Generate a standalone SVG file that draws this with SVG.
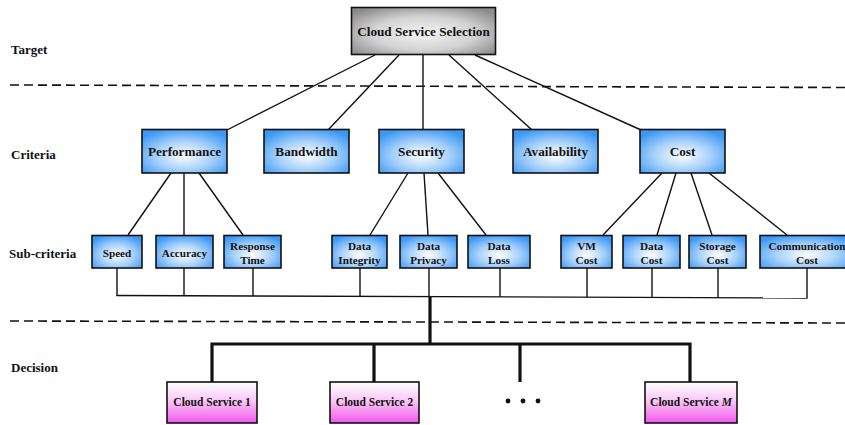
<svg xmlns="http://www.w3.org/2000/svg" width="845" height="425" viewBox="0 0 845 425">
  <defs>
    <radialGradient id="gGray" cx="50%" cy="55%" r="65%">
      <stop offset="0" stop-color="#f4f4f4"/>
      <stop offset="0.55" stop-color="#d2d2d2"/>
      <stop offset="1" stop-color="#8a8a8a"/>
    </radialGradient>
    <radialGradient id="gBlue" cx="50%" cy="60%" r="65%">
      <stop offset="0" stop-color="#ffffff"/>
      <stop offset="0.5" stop-color="#a9d2fb"/>
      <stop offset="1" stop-color="#3c98f5"/>
    </radialGradient>
    <linearGradient id="gPink" x1="0" y1="0" x2="0" y2="1">
      <stop offset="0" stop-color="#ffffff"/>
      <stop offset="0.45" stop-color="#fbc8f6"/>
      <stop offset="1" stop-color="#f058ec"/>
    </linearGradient>
  </defs>
  <style>
    .box { stroke: #111; stroke-width: 1.6; }
    .top { fill: url(#gGray); }
    .crit { fill: url(#gBlue); }
    .dec { fill: url(#gPink); }
    text { font-family: "Liberation Serif", "Times New Roman", serif; font-weight: bold; fill: #111; }
    .t13 { font-size: 13.2px; text-anchor: middle; }
    .t11 { font-size: 11.2px; text-anchor: middle; }
    .t12 { font-size: 11.5px; text-anchor: middle; }
    .lab { font-size: 13px; }
    .thin { stroke: #111; stroke-width: 1.4; fill: none; }
    .thick { stroke: #111; stroke-width: 3.2; fill: none; }
    .dash { stroke: #111; stroke-width: 1.6; stroke-dasharray: 9 5; fill: none; }
  </style>

  <rect width="845" height="425" fill="#ffffff"/>

  <!-- level labels and separators -->
  <g id="levels">
    <text class="lab" x="11" y="54">Target</text>
    <text class="lab" x="11" y="159">Criteria</text>
    <text class="lab" x="9" y="258">Sub-criteria</text>
    <text class="lab" x="11" y="372">Decision</text>
    <line class="dash" x1="10" y1="85" x2="845" y2="87.5"/>
    <line class="dash" x1="10" y1="321" x2="845" y2="323"/>
  </g>

  <!-- connectors -->
  <g id="connectors">
    <line class="thin" x1="375" y1="55" x2="227" y2="130"/>
    <line class="thin" x1="399" y1="55" x2="328" y2="130"/>
    <line class="thin" x1="423" y1="55" x2="423" y2="130"/>
    <line class="thin" x1="449" y1="55" x2="532" y2="130"/>
    <line class="thin" x1="475" y1="55" x2="641" y2="130"/>

    <line class="thin" x1="171" y1="173" x2="128" y2="235"/>
    <line class="thin" x1="184" y1="173" x2="184" y2="235"/>
    <line class="thin" x1="199" y1="173" x2="243" y2="235"/>

    <line class="thin" x1="408" y1="173" x2="370" y2="235"/>
    <line class="thin" x1="424" y1="173" x2="428" y2="235"/>
    <line class="thin" x1="438" y1="173" x2="486" y2="235"/>

    <line class="thin" x1="662" y1="173" x2="603" y2="235"/>
    <line class="thin" x1="676" y1="173" x2="657" y2="235"/>
    <line class="thin" x1="691" y1="173" x2="712" y2="235"/>
    <line class="thin" x1="709" y1="173" x2="787" y2="235"/>

    <!-- sub-criteria collector -->
    <line class="thin" x1="117" y1="268" x2="117" y2="295.5"/>
    <line class="thin" x1="184" y1="268" x2="184" y2="295.7"/>
    <line class="thin" x1="253" y1="268" x2="253" y2="296"/>
    <line class="thin" x1="360" y1="268" x2="360" y2="296.3"/>
    <line class="thin" x1="429" y1="268" x2="429" y2="296.5"/>
    <line class="thin" x1="500" y1="268" x2="500" y2="296.8"/>
    <line class="thin" x1="587" y1="268" x2="587" y2="297.2"/>
    <line class="thin" x1="652" y1="268" x2="652" y2="297.5"/>
    <line class="thin" x1="718" y1="268" x2="718" y2="297.8"/>
    <line class="thin" x1="807" y1="268" x2="807" y2="298"/>
    <line class="thin" x1="116.3" y1="295.5" x2="807.7" y2="298"/>

    <!-- decision bus -->
    <line class="thick" x1="430" y1="296" x2="430" y2="344"/>
    <polyline class="thick" points="212,382 212,344 690,344 690,382"/>
    <line class="thick" x1="374" y1="344" x2="374" y2="382"/>
    <line class="thick" x1="520" y1="344" x2="520" y2="382"/>
  </g>

  <!-- target -->
  <g id="target">
    <rect class="box top" x="351.5" y="7.5" width="144" height="47"/>
    <text class="t13" x="423.5" y="35.5">Cloud Service Selection</text>
  </g>

  <!-- criteria -->
  <g id="performance">
    <rect class="box crit" x="142" y="129.5" width="85" height="43.5"/>
    <text class="t13" x="184.5" y="156">Performance</text>
  </g>
  <g id="bandwidth">
    <rect class="box crit" x="264" y="129.5" width="85" height="43.5"/>
    <text class="t13" x="306.5" y="156">Bandwidth</text>
  </g>
  <g id="security">
    <rect class="box crit" x="379" y="129.5" width="85" height="43.5"/>
    <text class="t13" x="421.5" y="156">Security</text>
  </g>
  <g id="availability">
    <rect class="box crit" x="513" y="129.5" width="85" height="43.5"/>
    <text class="t13" x="555.5" y="156">Availability</text>
  </g>
  <g id="cost">
    <rect class="box crit" x="640" y="129.5" width="85" height="43.5"/>
    <text class="t13" x="682.5" y="156">Cost</text>
  </g>

  <!-- sub-criteria -->
  <g id="speed">
    <rect class="box crit" x="92" y="235.5" width="50" height="32.5"/>
    <text class="t11" x="117" y="256.5">Speed</text>
  </g>
  <g id="accuracy">
    <rect class="box crit" x="156" y="235.5" width="57" height="32.5"/>
    <text class="t11" x="184.5" y="256.5">Accuracy</text>
  </g>
  <g id="response-time">
    <rect class="box crit" x="224" y="235.5" width="57" height="32.5"/>
    <text class="t11" x="252.5" y="249.5">Response</text>
    <text class="t11" x="252.5" y="263.5">Time</text>
  </g>
  <g id="data-integrity">
    <rect class="box crit" x="332" y="235.5" width="55" height="32.5"/>
    <text class="t11" x="359.5" y="249.5">Data</text>
    <text class="t11" x="359.5" y="263.5">Integrity</text>
  </g>
  <g id="data-privacy">
    <rect class="box crit" x="400" y="235.5" width="57" height="32.5"/>
    <text class="t11" x="428.5" y="249.5">Data</text>
    <text class="t11" x="428.5" y="263.5">Privacy</text>
  </g>
  <g id="data-loss">
    <rect class="box crit" x="468" y="235.5" width="62" height="32.5"/>
    <text class="t11" x="499" y="249.5">Data</text>
    <text class="t11" x="499" y="263.5">Loss</text>
  </g>
  <g id="vm-cost">
    <rect class="box crit" x="561" y="235.5" width="51" height="32.5"/>
    <text class="t11" x="586.5" y="249.5">VM</text>
    <text class="t11" x="586.5" y="263.5">Cost</text>
  </g>
  <g id="data-cost">
    <rect class="box crit" x="623" y="235.5" width="57" height="32.5"/>
    <text class="t11" x="651.5" y="249.5">Data</text>
    <text class="t11" x="651.5" y="263.5">Cost</text>
  </g>
  <g id="storage-cost">
    <rect class="box crit" x="689" y="235.5" width="57" height="32.5"/>
    <text class="t11" x="717.5" y="249.5">Storage</text>
    <text class="t11" x="717.5" y="263.5">Cost</text>
  </g>
  <g id="communication-cost">
    <rect class="box crit" x="760" y="235.5" width="94" height="32.5"/>
    <text class="t11" x="807" y="249.5">Communication</text>
    <text class="t11" x="807" y="263.5">Cost</text>
  </g>

  <!-- decision alternatives -->
  <g id="cloud-service-1">
    <rect class="box dec" x="167" y="382" width="90" height="41"/>
    <text class="t12" x="212" y="406">Cloud Service 1</text>
  </g>
  <g id="cloud-service-2">
    <rect class="box dec" x="330" y="382" width="89" height="41"/>
    <text class="t12" x="374.5" y="406">Cloud Service 2</text>
  </g>
  <g id="ellipsis">
    <circle cx="508" cy="401" r="2.4" fill="#111"/>
    <circle cx="523" cy="401" r="2.4" fill="#111"/>
    <circle cx="538" cy="401" r="2.4" fill="#111"/>
  </g>
  <g id="cloud-service-m">
    <rect class="box dec" x="645" y="382" width="92" height="41"/>
    <text class="t12" x="691" y="406">Cloud Service <tspan font-style="italic">M</tspan></text>
  </g>
</svg>
